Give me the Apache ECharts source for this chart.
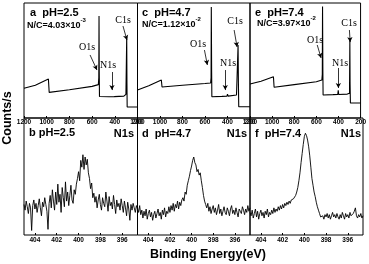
<!DOCTYPE html>
<html><head><meta charset="utf-8">
<script src="https://cdn.jsdelivr.net/npm/echarts@6/dist/echarts.min.js"></script>
<style>html,body{margin:0;padding:0;background:#fff}#c{width:369px;height:264px}</style>
</head><body><div id="c"></div>
<script>
// ---- data ----
const surveyTicks = [1200, 1000, 800, 600, 400, 200];
const n1sTicks = [404, 402, 400, 398, 396];
const panelLetterTop = ['a', 'c', 'e'];
const panelLetterBottom = ['b', 'd', 'f'];
const pHValues = ['2.5', '4.7', '7.4'];
const ncMantissa = ['4.03', '1.12', '3.97'];
const ncExponent = ['-3', '-2', '-2'];

// survey spectra [binding energy eV, counts (arb.)]
const surveyA = [[1200,25.8],[1100,28.5],[985,33.9],[978,22.3],[800,24.5],[600,27.5],[545,29],[541,35],[539,88.7],[537,40],[535,18.7],[450,18.5],[405,18.6],[400,19.8],[396,18.6],[320,19],[302,20.5],[297,22],[295,70.4],[293,30],[291,9.6],[200,9.6]];
const surveyC = [[1200,24.3],[1100,28],[988,33],[982,27],[800,28.5],[600,30],[550,30.4],[546,35],[544,96.5],[541,40],[539,18.5],[450,18.8],[405,19],[400,20.8],[395,19],[320,20],[310,21],[306,63.5],[303,30],[300,9.8],[200,9.8]];
const surveyE = [[1200,29.6],[1100,32],[988,35.9],[982,26.7],[800,29],[600,31.5],[550,33],[546,38],[544,97],[541,40],[539,20],[450,20.3],[406,20.5],[402,24],[398,20.5],[320,20.8],[300,21.5],[297,67.8],[295,30],[292,13],[200,13]];

// N1s high-resolution spectra, sampled from 405.0 eV downward every 0.1 eV
const n1sStartEV = 405.0;
const n1sStepEV = 0.1;
const n1sB = [27,22,30,25,19,28,24,4,26,31, 23,28,20,26,32,24,17,29,25,33, 27,21,5,28,35,24,40,30,22,38, 27,45,29,36,20,42,33,25,47,30, 38,26,35,44,31,28,40,36,45,50, 56,48,66,60,71,58,69,62,67,55, 50,41,46,33,37,29,34,24,31,36, 27,22,33,28,25,38,30,21,34,26, 29,23,35,27,19,31,25,28,22,32, 26,20,30,24,17,29,23,13,27,22, 28,24,20,26,23];
const n1sD = [24,20,26,18,22,15,21,17,23,14, 19,22,16,20,13,18,21,15,19,23, 17,20,14,22,18,24,16,21,19,25, 20,26,22,28,21,27,24,30,23,29, 26,31,33,30,38,36,44,48,52,57, 61,66,69,64,62,56,58,53,55,48, 42,35,30,27,24,28,21,25,19,23, 26,20,24,18,22,27,19,23,17,21, 25,20,18,24,21,17,23,26,19,22, 18,24,20,16,23,21,19,25,22,18, 23,20,26,21,24];
const n1sF = [20,17,22,15,19,23,16,21,14,19, 22,17,20,15,21,18,23,16,20,18, 22,19,24,20,23,21,25,22,26,23, 27,24,28,26,29,27,30,28,31,30, 32,33,35,38,42,48,55,64,72,80, 87,90,88,84,78,70,60,50,44,38, 34,29,25,22,19,16,15,17,14,18, 16,19,15,18,14,17,20,16,18,15, 19,16,14,18,15,20,17,14,19,16, 18,15,20,17,16,19,21,24,17,15, 18,16,19,15,17];

// annotation arrows [fromE, fromCounts, toE, toCounts]
const arrowsA = [[618,54.8,557,41.7],[425,40,425,24.3],[328,80,293,67.8]];
const arrowsC = [[605,59.1,579,46.1],[420,41.7,420,24.3],[341,76.5,315,61.7]];
const arrowsE = [[592,63.5,557,52.2],[401,43.5,401,26.1],[301,76.5,294,66]];

// ---- layout ----
const lefts = [24, 137.5, 250];
const widths = [113.5, 112.5, 113];
const SANS = 'Liberation Sans';
const SERIF = 'Liberation Serif';

const surveys = [surveyA, surveyC, surveyE];
const n1s = [n1sB, n1sD, n1sF];
const arrows = [arrowsA, arrowsC, arrowsE];

function n1sPairs(vals) {
  return vals.map((v, i) => [+(n1sStartEV - i * n1sStepEV).toFixed(1), v]);
}

const grid = [], xAxis = [], yAxis = [], series = [];
for (let p = 0; p < 3; p++) {
  grid.push({left: lefts[p], top: 3, width: widths[p], height: 115, show: true, borderColor: '#000', borderWidth: 1, backgroundColor: 'transparent'});
}
for (let p = 0; p < 3; p++) {
  grid.push({left: lefts[p], top: 118, width: widths[p], height: 117, show: true, borderColor: '#000', borderWidth: 1, backgroundColor: 'transparent'});
}
for (let p = 0; p < 3; p++) {
  xAxis.push({gridIndex: p, type: 'value', min: 200, max: 1200, interval: 200, inverse: true,
    axisLine: {show: false}, splitLine: {show: false},
    axisTick: {show: true, inside: true, length: 2, lineStyle: {color: '#000', width: 1}},
    axisLabel: {fontSize: 6.5, fontWeight: 'bold', color: '#000', margin: 1, fontFamily: SANS,
      formatter: v => String(v)}});
  yAxis.push({gridIndex: p, type: 'value', min: 0, max: 100, show: false});
  series.push({type: 'line', xAxisIndex: p, yAxisIndex: p, data: surveys[p], showSymbol: false, animation: false,
    lineStyle: {color: '#000', width: 1.1},
    markLine: {silent: true, symbol: ['none', 'arrow'], symbolSize: [4, 5], animation: false,
      lineStyle: {color: '#000', width: 0.8, type: 'solid'}, label: {show: false},
      data: arrows[p].map(a => [{coord: [a[0], a[1]]}, {coord: [a[2], a[3]]}])}});
}
for (let p = 0; p < 3; p++) {
  const gi = p + 3;
  xAxis.push({gridIndex: gi, type: 'value', min: 394.6, max: 405, inverse: true,
    axisLine: {show: false}, splitLine: {show: false},
    axisTick: {show: true, inside: true, length: 2, customValues: n1sTicks, lineStyle: {color: '#000', width: 1}},
    axisLabel: {fontSize: 6.5, fontWeight: 'bold', color: '#000', margin: 2, fontFamily: SANS, customValues: n1sTicks,
      formatter: v => String(v)}});
  yAxis.push({gridIndex: gi, type: 'value', min: 0, max: 103.5, show: false});
  series.push({type: 'line', xAxisIndex: gi, yAxisIndex: gi, data: n1sPairs(n1s[p]), showSymbol: false, animation: false,
    lineStyle: {color: '#000', width: 0.9}});
}

// ---- text ----
const graphic = [];
function txt(x, y, text, size, opts) {
  graphic.push(Object.assign({type: 'text', x: x, y: y, silent: true,
    style: Object.assign({text: text, fontSize: size, fontFamily: SANS, fontWeight: 'bold', fill: '#000', textVerticalAlign: 'middle', textAlign: 'left'}, (opts && opts.style) || {})},
    opts && opts.el || {}));
}
const topLabelPos = [[30, 13], [142, 12.5], [255, 12.5]];
const ncPos = [[27, 24], [142, 23.5], [257, 22.5]];
for (let p = 0; p < 3; p++) {
  txt(topLabelPos[p][0], topLabelPos[p][1], panelLetterTop[p] + '  pH=' + pHValues[p], 11);
  graphic.push({type: 'text', x: ncPos[p][0], y: ncPos[p][1] - 7, silent: true,
    style: {text: '{m|N/C=' + ncMantissa[p] + '×10}{s|' + ncExponent[p] + '}',
      fill: '#000', textVerticalAlign: 'top',
      rich: {m: {fontSize: 9, fontWeight: 'bold', fontFamily: SANS, lineHeight: 13, verticalAlign: 'bottom'},
             s: {fontSize: 6, fontWeight: 'bold', fontFamily: SANS, verticalAlign: 'top'}}}});
}
const peakNames = ['O1s', 'N1s', 'C1s'];
const peakLabelPos = [
  [[87, 47], [108, 65], [123, 20]],
  [[198, 44], [228, 63], [235, 21]],
  [[315, 40], [340, 63], [349, 23]]
];
for (let p = 0; p < 3; p++) {
  for (let k = 0; k < 3; k++) {
    txt(peakLabelPos[p][k][0], peakLabelPos[p][k][1], peakNames[k], 10,
      {style: {fontFamily: SERIF, fontWeight: 'normal', textAlign: 'center'}});
  }
}
const botLabelPos = [[29, 133], [142, 134], [255, 134]];
const botN1sRight = [134, 247, 361];
for (let p = 0; p < 3; p++) {
  txt(botLabelPos[p][0], botLabelPos[p][1], panelLetterBottom[p] + (p === 0 ? ' ' : '  ') + 'pH=' + pHValues[p], 11);
  txt(botN1sRight[p], 134, 'N1s', 11, {style: {textAlign: 'right'}});
}
txt(208, 255, 'Binding Energy(eV)', 12.5, {style: {textAlign: 'center'}});
txt(8, 118, 'Counts/s', 12.5, {style: {textAlign: 'center'}, el: {rotation: Math.PI / 2}});

const chart = echarts.init(document.getElementById('c'), null, {renderer: 'canvas'});
chart.setOption({animation: false, backgroundColor: '#fff', grid, xAxis, yAxis, series, graphic});
</script>
</body></html>
